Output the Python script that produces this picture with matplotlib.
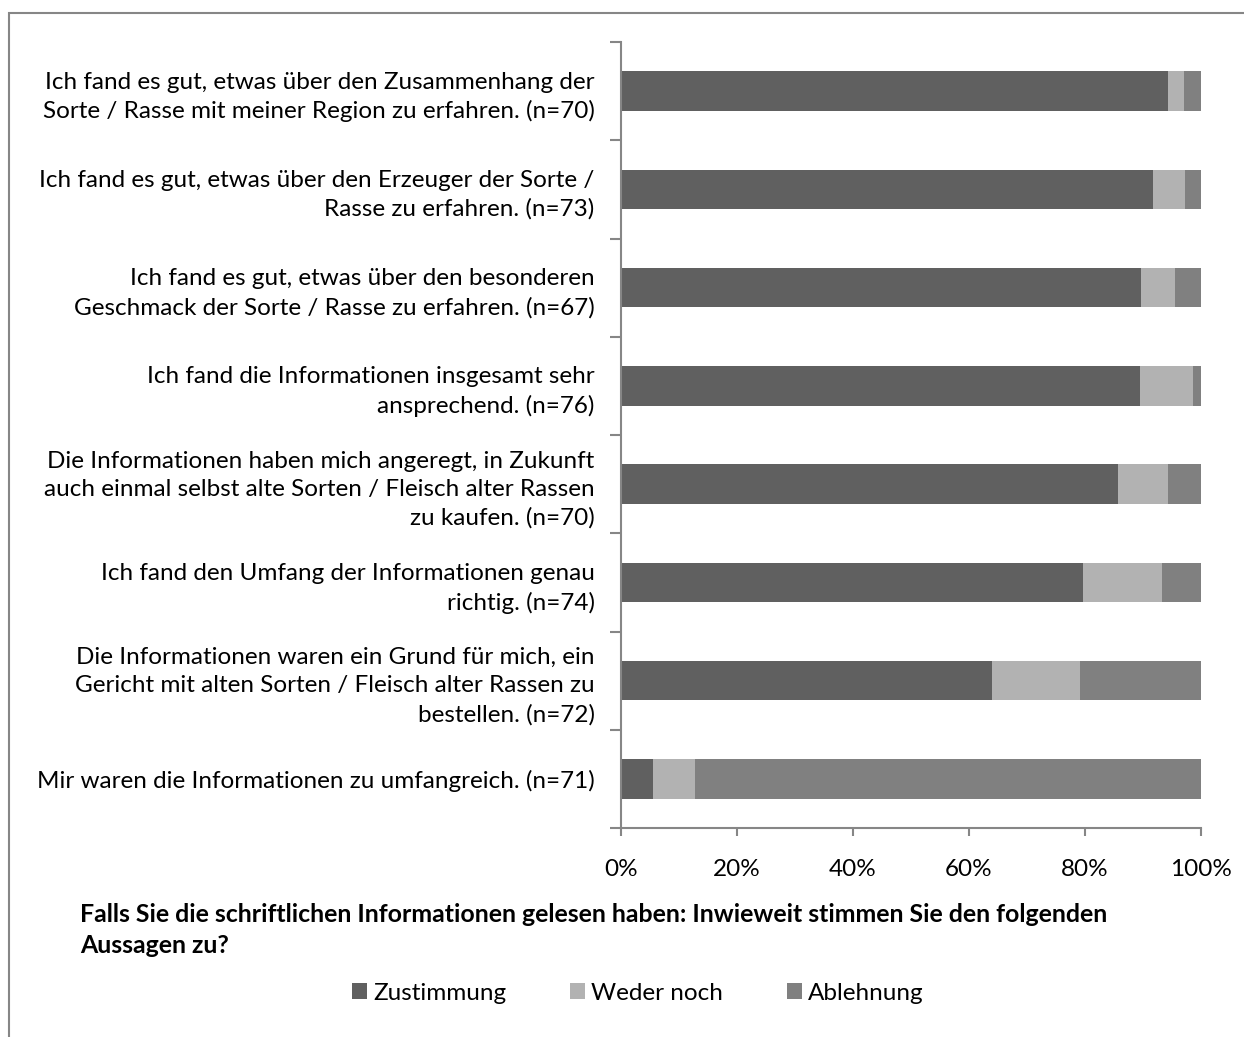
import matplotlib.pyplot as plt
from matplotlib.patches import Rectangle
import numpy as np

plt.rcParams['font.family'] = ['Lato', 'DejaVu Sans']

labels = [
    'Ich fand es gut, etwas über den Zusammenhang der\nSorte / Rasse mit meiner Region zu erfahren. (n=70)',
    'Ich fand es gut, etwas über den Erzeuger der Sorte /\nRasse zu erfahren. (n=73)',
    'Ich fand es gut, etwas über den besonderen\nGeschmack der Sorte / Rasse zu erfahren. (n=67)',
    'Ich fand die Informationen insgesamt sehr\nansprechend. (n=76)',
    'Die Informationen haben mich angeregt, in Zukunft\nauch einmal selbst alte Sorten / Fleisch alter Rassen\nzu kaufen. (n=70)',
    'Ich fand den Umfang der Informationen genau\nrichtig. (n=74)',
    'Die Informationen waren ein Grund für mich, ein\nGericht mit alten Sorten / Fleisch alter Rassen zu\nbestellen. (n=72)',
    'Mir waren die Informationen zu umfangreich. (n=71)',
]
zustimmung = [94.3, 91.8, 89.6, 89.5, 85.7, 79.7, 63.9, 5.6]
weder_noch = [2.8, 5.5, 6.0, 9.2, 8.6, 13.5, 15.3, 7.1]
ablehnung = [2.9, 2.7, 4.4, 1.3, 5.7, 6.8, 20.8, 87.3]

series = ['Zustimmung', 'Weder noch', 'Ablehnung']
colors = ['#606060', '#b2b2b2', '#808080']
axis_grey = '#868686'
fs = 17.5

W, H = 1244, 1037
fig = plt.figure(figsize=(W / 100, H / 100), dpi=100)
ax = fig.add_axes([621 / W, 1 - 828 / H, (1201 - 621) / W, (828 - 42) / H])

y = np.arange(len(labels))
left = np.zeros(len(labels))
for name, vals, c in zip(series, [zustimmung, weder_noch, ablehnung], colors):
    v = np.array(vals) / 100
    ax.barh(y, v, left=left, height=0.4, color=c, label=name)
    left += v

ax.set_xlim(0, 1)
ax.set_ylim(len(labels) - 0.5, -0.5)
xt = np.arange(0, 1.01, 0.2)
ax.set_xticks(xt)
ax.set_xticklabels([f'{int(round(t * 100))}%' for t in xt], fontsize=fs)
ax.set_yticks(y)
ax.set_yticklabels(labels, fontsize=fs, linespacing=1.42, ha='right')
ax.set_yticks(np.arange(-0.5, len(labels)), minor=True)
ax.tick_params(axis='y', which='major', length=0, pad=19)
ax.tick_params(axis='y', which='minor', length=8, width=1.5, color=axis_grey, direction='out')
ax.tick_params(axis='x', length=6, width=1.5, color=axis_grey, direction='out', pad=16)

for s in ['top', 'right']:
    ax.spines[s].set_visible(False)
for s in ['left', 'bottom']:
    ax.spines[s].set_color(axis_grey)
    ax.spines[s].set_linewidth(1.5)

fig.text(80 / W, 1 - 930 / H,
         'Falls Sie die schriftlichen Informationen gelesen haben: Inwieweit stimmen Sie den folgenden\nAussagen zu?',
         fontsize=17.9, fontweight='bold', ha='left', va='center', linespacing=1.42)

fig.legend(loc='center', bbox_to_anchor=(638 / W, 1 - 993 / H), ncol=3, frameon=False,
           fontsize=fs, handlelength=0.6, handleheight=0.6, handletextpad=0.25, columnspacing=2.65)

fig.patches.append(Rectangle((9 / W, -0.1), 1.2, 1 - 13 / H + 0.1, transform=fig.transFigure,
                             fill=False, edgecolor=axis_grey, linewidth=1.5))

fig.savefig('out.png', dpi=100)
